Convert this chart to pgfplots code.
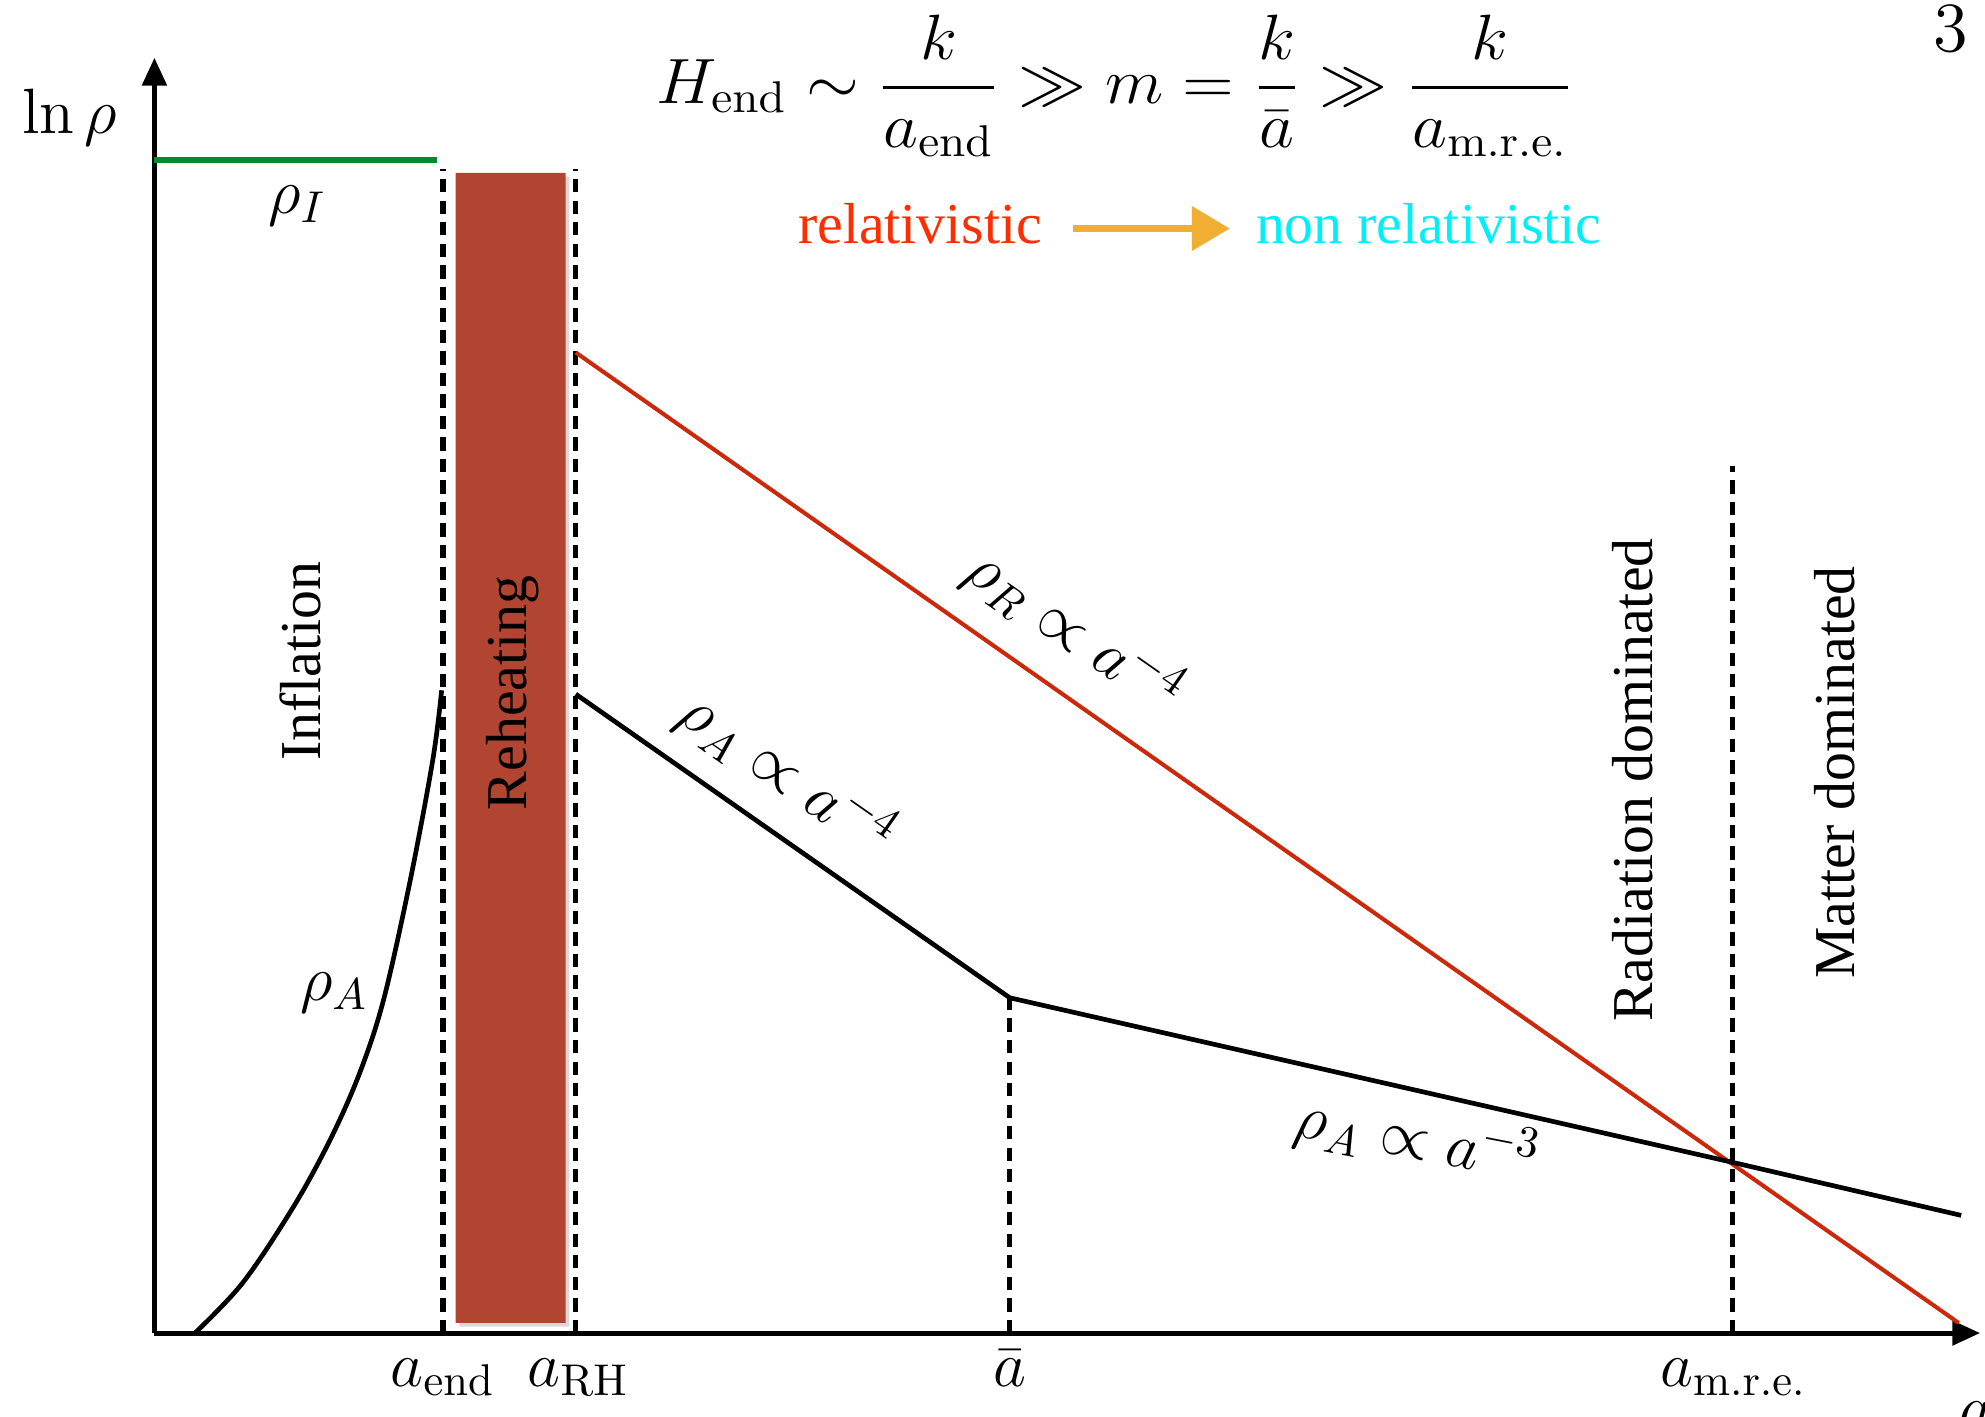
\documentclass[border=0pt]{standalone}
\usepackage{amsmath}
\usepackage[no-math]{fontspec}
\setmainfont{Liberation Serif}
\usepackage{pgfplots}
\pgfplotsset{compat=1.18}
\usetikzlibrary{arrows.meta}
\definecolor{redline}{RGB}{204,40,10}
\definecolor{reltext}{RGB}{255,45,0}
\definecolor{nonrel}{RGB}{0,240,250}
\definecolor{arroworange}{RGB}{240,175,50}
\definecolor{greenline}{RGB}{0,140,45}
\definecolor{barfill}{RGB}{178,68,50}
\tikzset{
  mathlab/.style={font=\fontsize{14.4}{17}\selectfont, inner sep=0pt},
  txtlab/.style={font=\fontsize{13}{15}\selectfont, inner sep=0pt},
}
\begin{document}
\begin{tikzpicture}
\begin{axis}[
  x=0.01cm, y=0.01cm,
  anchor=origin, at={(0,0)},
  xmin=0, xmax=1443, ymin=0, ymax=1008,
  axis x line*=bottom, axis y line*=left,
  axis line style={line width=0.04cm, -{Triangle[length=0.22cm,width=0.19cm]}},
  xtick=\empty, ytick=\empty,
  clip=false,
  enlargelimits=false,
]
% reheating bar shadow and bar
\addplot[fill=black, fill opacity=0.15, draw=none] coordinates {(241,5) (328,5) (328,914) (241,914) (241,5)};
\addplot[fill=barfill, draw=none] coordinates {(238,8) (325,8) (325,917) (238,917) (238,8)};
% rho_I (inflation plateau)
\addplot[greenline, line width=0.045cm] coordinates {(0,927) (223,927)};
% dashed vertical markers
\addplot[black, line width=0.042cm, dash pattern=on 0.105cm off 0.065cm] coordinates {(228,0) (228,920)};
\addplot[black, line width=0.042cm, dash pattern=on 0.105cm off 0.065cm] coordinates {(333,0) (333,920)};
\addplot[black, line width=0.042cm, dash pattern=on 0.105cm off 0.065cm] coordinates {(676,0) (676,265)};
\addplot[black, line width=0.042cm, dash pattern=on 0.105cm off 0.065cm] coordinates {(1247,0) (1247,685)};
% rho_A during inflation
\addplot[black, line width=0.037cm, smooth, tension=0.55] coordinates {(32,0) (70,40) (110,100) (139,153) (162,205) (181,263) (202,357) (220,453) (227,508)};
% rho_R
\addplot[redline, line width=0.032cm] coordinates {(333,775) (1426,8)};
% rho_A after reheating
\addplot[black, line width=0.037cm] coordinates {(333,505) (676,265) (1247,135) (1428,93)};

% labels
\node[mathlab, anchor=base] at (axis cs:-67,948) {$\ln\rho$};
\node[mathlab, anchor=base] at (axis cs:113,885) {$\rho_I$};
\node[mathlab, anchor=base] at (axis cs:142,263) {$\rho_A$};
\node[mathlab, rotate=-35] at (axis cs:727,555) {$\rho_R \propto a^{-4}$};
\node[mathlab, rotate=-35] at (axis cs:500,442) {$\rho_A \propto a^{-4}$};
\node[mathlab, rotate=-11] at (axis cs:998,153) {$\rho_A \propto a^{-3}$};
\node[txtlab, rotate=90] at (axis cs:115,531) {Inflation};
\node[txtlab, rotate=90] at (axis cs:283,506) {Reheating};
\node[txtlab, rotate=90] at (axis cs:1168,437) {Radiation dominated};
\node[txtlab, rotate=90] at (axis cs:1328,443) {Matter dominated};
% x tick labels
\node[mathlab, anchor=base] at (axis cs:228,-42) {$a_{\mathrm{end}}$};
\node[mathlab, anchor=base] at (axis cs:335,-42) {$a_{\mathrm{RH}}$};
\node[mathlab, anchor=base] at (axis cs:676,-42) {$\bar a$};
\node[mathlab, anchor=base] at (axis cs:1248,-42) {$a_{\mathrm{m.r.e.}}$};
\node[mathlab, anchor=base west] at (axis cs:1426,-76) {$a$};
% top annotations
\node[mathlab, anchor=base west] at (axis cs:396,972) {\scalebox{1.06}[1]{$\displaystyle H_{\mathrm{end}} \sim \frac{k}{a_{\mathrm{end}}} \gg m = \frac{k}{\bar a} \gg \frac{k}{a_{\mathrm{m.r.e.}}}$}};
\node[mathlab, anchor=base] at (axis cs:1420,1013) {\scalebox{1.1}{$3$}};
\node[txtlab, anchor=base west, text=reltext] at (axis cs:508,861) {relativistic};
\node[txtlab, anchor=base west, text=nonrel] at (axis cs:870,861) {non relativistic};
\draw[arroworange, line width=0.055cm, -{Triangle[length=0.3cm,width=0.34cm]}] (axis cs:726,873) -- (axis cs:850,873);
\end{axis}
\pgfresetboundingbox
\useasboundingbox (-1.22,-0.66) rectangle (14.46,10.53);
\end{tikzpicture}
\end{document}
